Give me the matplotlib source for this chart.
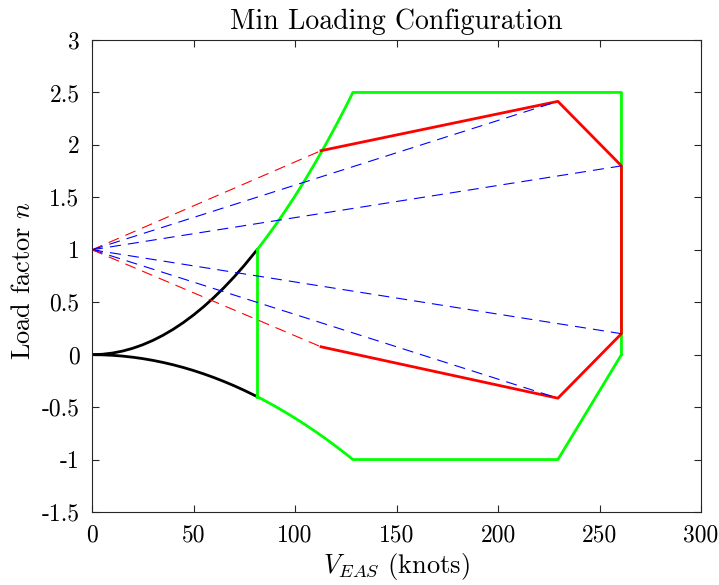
import matplotlib
matplotlib.use("Agg")
import matplotlib.pyplot as plt

plt.rcParams['font.family'] = 'serif'
plt.rcParams['font.serif'] = ['cmr10']
plt.rcParams['mathtext.fontset'] = 'cm'
plt.rcParams['axes.unicode_minus'] = False

# Stall curve (positive), knots vs load factor
v_stall_pos = [0, 5, 10, 15, 20, 25, 30, 35, 40, 45, 50, 55, 60, 65, 70, 75, 81.3]
n_stall_pos = [0, 0.0038, 0.0151, 0.0340, 0.0605, 0.0946, 0.1362, 0.1853, 0.2421,
               0.3064, 0.3782, 0.4577, 0.5447, 0.6392, 0.7413, 0.8510, 1.0]
n_stall_neg = [0, -0.0015, -0.0061, -0.0136, -0.0242, -0.0378, -0.0545, -0.0741, -0.0968,
               -0.1225, -0.1513, -0.1831, -0.2179, -0.2557, -0.2965, -0.3404, -0.4]

# Manoeuvre envelope (green)
v_man_pos = [81.3, 85, 90, 95, 100, 105, 110, 115, 120, 125, 128.5, 260.8, 260.8]
n_man_pos = [1.0, 1.093, 1.2255, 1.3654, 1.5129, 1.668, 1.8306, 2.0008, 2.1786, 2.364, 2.5, 2.5, 0.0]
v_man_neg = [81.3, 85, 90, 95, 100, 105, 110, 115, 120, 125, 128.5, 229.5, 260.8]
n_man_neg = [-0.4, -0.4372, -0.4902, -0.5462, -0.6052, -0.6672, -0.7322, -0.8003, -0.8714,
             -0.9456, -1.0, -1.0, 0.0]
v_man_vert = [81.3, 81.3]
n_man_vert = [1.0, -0.4]

# Gust envelope (red)
v_gust = [112.8, 229.5, 260.8, 260.8, 229.5, 112.8]
n_gust = [1.945, 2.415, 1.80, 0.20, -0.415, 0.075]
gust_dash_colors = ['r', 'b', 'b', 'b', 'b', 'r']

fig = plt.figure(figsize=(7.19, 5.85), dpi=100)
ax = fig.add_axes([0.128, 0.1248, 0.847, 0.8068])

ax.plot(v_stall_pos, n_stall_pos, color='k', lw=2)
ax.plot(v_stall_pos, n_stall_neg, color='k', lw=2)
ax.plot(v_man_pos, n_man_pos, color=(0, 1, 0), lw=2)
ax.plot(v_man_neg, n_man_neg, color=(0, 1, 0), lw=2)
ax.plot(v_man_vert, n_man_vert, color=(0, 1, 0), lw=2)
ax.plot(v_gust, n_gust, color=(1, 0, 0), lw=2)
for v, n, c in zip(v_gust, n_gust, gust_dash_colors):
    ax.plot([0, v], [1, n], color=c, lw=0.8, ls=(0, (10, 6.3)))

ax.set_xlim(0, 300)
ax.set_ylim(-1.5, 3)
xt = [0, 50, 100, 150, 200, 250, 300]
yt = [-1.5, -1, -0.5, 0, 0.5, 1, 1.5, 2, 2.5, 3]
ax.set_xticks(xt)
ax.set_xticklabels([str(v) for v in xt])
ax.set_yticks(yt)
ax.set_yticklabels(['-1.5', '-1', '-0.5', '0', '0.5', '1', '1.5', '2', '2.5', '3'])
ax.tick_params(direction='in', top=True, right=True, labelsize=17, colors='0.15',
               labelcolor='k', length=5, width=0.8)
ax.tick_params(axis='x', pad=9)
ax.tick_params(axis='y', pad=9)
for s in ax.spines.values():
    s.set_color('0.15')
    s.set_linewidth(0.8)

ax.set_title('Min Loading Configuration', fontsize=20, pad=8)
ax.set_xlabel(r'$V_{EAS}$ (knots)', fontsize=19, labelpad=3)
ax.set_ylabel(r'Load factor $n$', fontsize=19)
ax.yaxis.set_label_coords(-0.093, 0.49)

fig.savefig('out.png', dpi=100)
